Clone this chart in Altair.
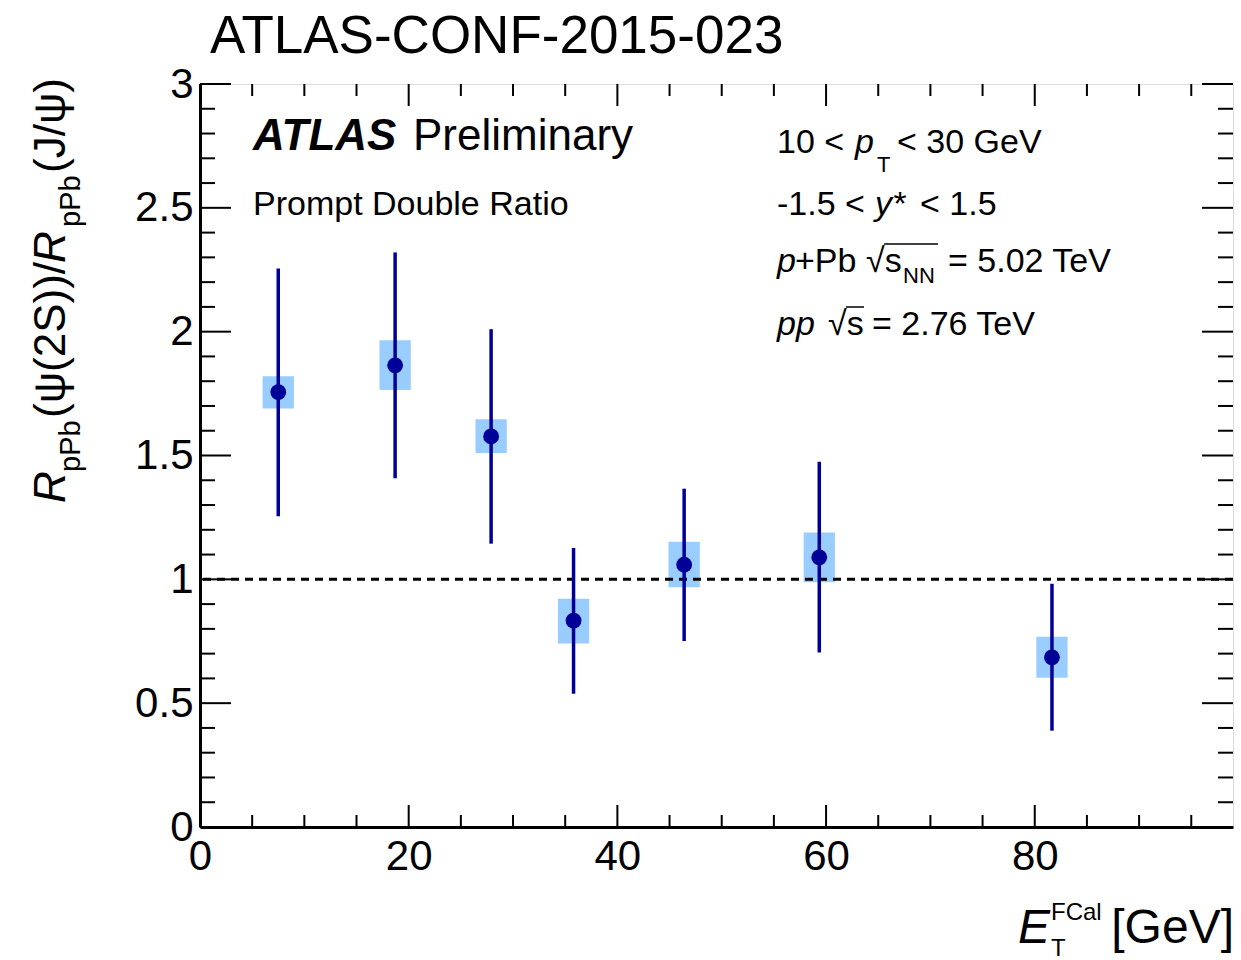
import altair as alt
import pandas as pd

# ---- data ----
et_fcal = [7.5, 18.7, 27.9, 35.8, 46.4, 59.35, 81.65]
ratio = [1.756, 1.864, 1.577, 0.833, 1.059, 1.089, 0.685]
stat_hi = [2.255, 2.320, 2.010, 1.127, 1.366, 1.475, 0.982]
stat_lo = [1.255, 1.408, 1.144, 0.538, 0.751, 0.705, 0.389]
syst_hi = [1.820, 1.965, 1.646, 0.922, 1.152, 1.189, 0.768]
syst_lo = [1.690, 1.764, 1.510, 0.741, 0.968, 0.988, 0.603]

x_major = [0, 20, 40, 60, 80]
x_minor = [5, 10, 15, 25, 30, 35, 45, 50, 55, 65, 70, 75, 85, 90, 95]
y_major = [0, 0.5, 1, 1.5, 2, 2.5, 3]
y_minor = [0.1, 0.2, 0.3, 0.4, 0.6, 0.7, 0.8, 0.9, 1.1, 1.2, 1.3, 1.4,
           1.6, 1.7, 1.8, 1.9, 2.1, 2.2, 2.3, 2.4, 2.6, 2.7, 2.8, 2.9]
unity = [1.0]

df = pd.DataFrame({"et": et_fcal, "r": ratio, "shi": stat_hi, "slo": stat_lo,
                   "yhi": syst_hi, "ylo": syst_lo})

# ---- layout ----
L, T, W, H = 200, 84, 1033, 743
FONT = "Liberation Sans"
XS = alt.Scale(domain=[0, 99], nice=False, zero=False)
YS = alt.Scale(domain=[0, 3], nice=False, zero=False)
XAX = alt.Axis(values=x_major, labelFontSize=42, labelFont=FONT,
               labelColor="black", labelPadding=9, ticks=False,
               grid=False, domain=True, domainColor="black",
               domainWidth=3, labelFlush=False, format="d", title=None)
YAX = alt.Axis(values=y_major, labelFontSize=42, labelFont=FONT,
               labelColor="black", labelPadding=7, ticks=False,
               grid=False, domain=True, domainColor="black",
               domainWidth=3, labelFlush=False, format="~g", title=None)


def X(f):
    return alt.X(f, scale=XS, axis=XAX, title=None)


def Y(f):
    return alt.Y(f, scale=YS, axis=YAX, title=None)


base = alt.Chart(df)

boxes = base.transform_calculate(
    xa="datum.et - 1.5", xb="datum.et + 1.5"
).mark_rect(color="#99ccff").encode(
    x=X("xa:Q"), x2="xb:Q", y=Y("ylo:Q"), y2="yhi:Q",
)

line1 = alt.Chart(pd.DataFrame({"v": unity})).mark_rule(
    color="black", strokeWidth=3, strokeDash=[8, 6]
).encode(y=Y("v:Q"))

errs = base.mark_rule(color="#000099", strokeWidth=3.5).encode(
    x=X("et:Q"), y=Y("slo:Q"), y2="shi:Q",
)

pts = base.mark_circle(color="#000099", opacity=1, size=250).encode(
    x=X("et:Q"), y=Y("r:Q"),
)


def xticks(vals, length):
    d = alt.Chart(pd.DataFrame({"v": vals}))
    b = d.mark_rule(color="black", strokeWidth=2).encode(
        x=X("v:Q"), y=alt.value(H), y2=alt.value(H - length))
    t = d.mark_rule(color="black", strokeWidth=2).encode(
        x=X("v:Q"), y=alt.value(0), y2=alt.value(length))
    return [b, t]


def yticks(vals, length):
    d = alt.Chart(pd.DataFrame({"v": vals}))
    l = d.mark_rule(color="black", strokeWidth=2).encode(
        y=Y("v:Q"), x=alt.value(0), x2=alt.value(length))
    r = d.mark_rule(color="black", strokeWidth=2).encode(
        y=Y("v:Q"), x=alt.value(W), x2=alt.value(W - length))
    return [l, r]


def txt(s, px, py, size, style="normal", weight="normal", align="left", angle=0):
    kw = dict(text=s, fontSize=size, font=FONT, fontStyle=style, fontWeight=weight,
              align=align, baseline="alphabetic", color="black")
    if angle:
        kw["angle"] = angle
    return alt.Chart(alt.Data(values=[{"k": 0}])).mark_text(**kw).encode(
        x=alt.value(px - L), y=alt.value(py - T))


def overline(x1, x2, py):
    return alt.Chart(alt.Data(values=[{"k": 0}])).mark_rule(
        color="black", strokeWidth=1.5).encode(
        x=alt.value(x1 - L), x2=alt.value(x2 - L), y=alt.value(py - T))


texts = [
    txt("ATLAS-CONF-2015-023", 210, 53, 53),
    # y title (rotated)
    txt("R", 65, 503, 44, style="italic", angle=270),
    txt("pPb", 80, 472, 29, angle=270),
    txt("(ψ(2S))/", 65, 418, 44, angle=270),
    txt("R", 65, 263, 44, style="italic", angle=270),
    txt("pPb", 80, 227, 29, angle=270),
    txt("(J/ψ)", 65, 173, 44, angle=270),
    # x title
    txt("E", 1018, 943, 48, style="italic"),
    txt("FCal", 1051, 920, 24),
    txt("T", 1051, 956, 24),
    txt("[GeV]", 1234, 943, 48, align="right"),
    # left annotations
    txt("ATLAS", 253, 150, 44, style="italic", weight="bold"),
    txt("Preliminary", 413, 150, 44),
    txt("Prompt Double Ratio", 253, 215, 34),
    # right annotations
    txt("10 <", 777, 153, 34),
    txt("p", 855, 153, 34, style="italic"),
    txt("T", 877, 172, 22),
    txt("< 30 GeV", 897, 153, 34),
    txt("-1.5 <", 777, 215, 34),
    txt("y*", 875, 215, 34, style="italic"),
    txt("< 1.5", 920, 215, 34),
    txt("p", 777, 272, 34, style="italic"),
    txt("+Pb", 795, 272, 34),
    txt("√s", 866, 272, 34),
    txt("NN", 903, 283, 22),
    txt("= 5.02 TeV", 948, 272, 34),
    overline(884, 938, 244),
    txt("pp", 777, 335, 34, style="italic"),
    txt("√s", 828, 335, 34),
    txt("= 2.76 TeV", 872, 335, 34),
    overline(846, 864, 307),
]

layers = [boxes, line1, errs, pts]
layers += xticks(x_major, 22) + xticks(x_minor, 12)
layers += yticks(y_major, 31) + yticks(y_minor, 15)
layers += texts

chart = alt.layer(*layers).properties(
    width=W, height=H,
    autosize=alt.AutoSizeParams(type="none"),
    padding={"left": L, "top": T, "right": 1241 - L - W, "bottom": 960 - T - H},
).configure_view(stroke="black", strokeWidth=2).configure(background="white")

chart.save("out.html", embed_options={"renderer": "svg", "actions": False})
